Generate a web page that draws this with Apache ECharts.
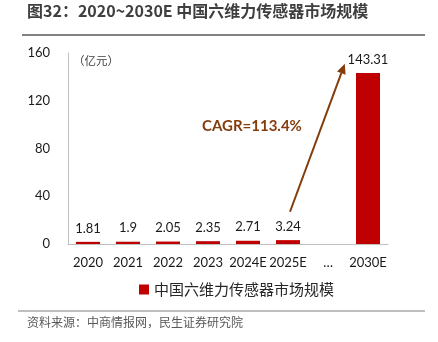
<!DOCTYPE html>
<html><head><meta charset="utf-8">
<script src="https://cdn.jsdelivr.net/npm/echarts@6/dist/echarts.min.js"></script>
<style>html,body{margin:0;padding:0;background:#fff}#c{width:438px;height:342px}</style>
</head><body><div id="c"></div>
<script>
var categories = ['2020','2021','2022','2023','2024E','2025E','…','2030E'];
var values = [1.81, 1.9, 2.05, 2.35, 2.71, 3.24, null, 143.31];
var yTicks = [0, 40, 80, 120, 160];
var seriesName = '中国六维力传感器市场规模';
var titleText = '图32：2020~2030E 中国六维力传感器市场规模';
var unitText = '（亿元）';
var cagrText = 'CAGR=113.4%';
var sourceText = '资料来源：中商情报网，民生证券研究院';

var chart = echarts.init(document.getElementById('c'), null, {renderer:'canvas'});
var numFont = 'Lato, "Noto Sans", sans-serif';
var cjk = '"Noto Sans CJK SC", sans-serif';
chart.setOption({
  animation:false,
  grid:{left:68, right:50, top:53, bottom:98},
  legend:{data:[seriesName], left:134, top:277, itemWidth:10, itemHeight:10, itemGap:4,
    icon:'rect', textStyle:{fontFamily:cjk, fontSize:15, color:'#262626'}},
  xAxis:{type:'category', data:categories,
    axisLine:{lineStyle:{color:'#BFBFBF', width:1}}, axisTick:{show:false},
    axisLabel:{fontFamily:numFont, fontSize:13, color:'#1a1a1a', margin:12, interval:0}},
  yAxis:{type:'value', min:yTicks[0], max:yTicks[yTicks.length-1], interval:40,
    axisLine:{show:true, lineStyle:{color:'#BFBFBF', width:1}}, axisTick:{show:false},
    splitLine:{show:false},
    axisLabel:{fontFamily:numFont, fontSize:13, color:'#1a1a1a', margin:18}},
  series:[{name:seriesName, type:'bar', data:values, barWidth:24,
    itemStyle:{color:'#C00000'},
    label:{show:true, position:'top', distance:7, fontFamily:numFont, fontSize:13, color:'#1a1a1a'}}]
});

function build(){
  var p0 = chart.convertToPixel({seriesIndex:0}, [categories[5], 27]);
  var pA = chart.convertToPixel({seriesIndex:0}, [categories[6], 151]);
  var pB = chart.convertToPixel({seriesIndex:0}, [categories[7], 151]);
  var x0 = p0[0] + 2, y0 = p0[1];
  var x1 = pA[0] + (pB[0]-pA[0])*0.42, y1 = pA[1];
  var ang = Math.atan2(y1-y0, x1-x0);
  var hl = 10, hw = 4.5;
  var bx = x1 - hl*Math.cos(ang), by = y1 - hl*Math.sin(ang);
  var nx = -Math.sin(ang), ny = Math.cos(ang);
  var brown = '#843C0C';
  chart.setOption({graphic:[
    {type:'text', left:27, top:3, style:{text:titleText, fontFamily:cjk, fontWeight:'bold', fontSize:16, fill:'#3f3f3f'}},
    {type:'line', shape:{x1:22, y1:35, x2:425, y2:35}, style:{stroke:'#595959', lineWidth:1.5}},
    {type:'text', left:73, top:55, style:{text:unitText, fontFamily:cjk, fontSize:11.5, fill:'#404040'}},
    {type:'line', shape:{x1:x0, y1:y0, x2:bx, y2:by}, style:{stroke:brown, lineWidth:2}},
    {type:'polygon', shape:{points:[[x1,y1],[bx+nx*hw,by+ny*hw],[bx-nx*hw,by-ny*hw]]}, style:{fill:brown}},
    {type:'text', left:202, top:119, style:{text:cagrText, fontFamily:numFont, fontWeight:'bold', fontSize:15, fill:brown}},
    {type:'line', shape:{x1:18, y1:311, x2:425, y2:311}, style:{stroke:'#7f7f7f', lineWidth:1}},
    {type:'text', left:27, top:316, style:{text:sourceText, fontFamily:cjk, fontSize:12, fill:'#595959'}}
  ]});
}
build();
</script></body></html>
